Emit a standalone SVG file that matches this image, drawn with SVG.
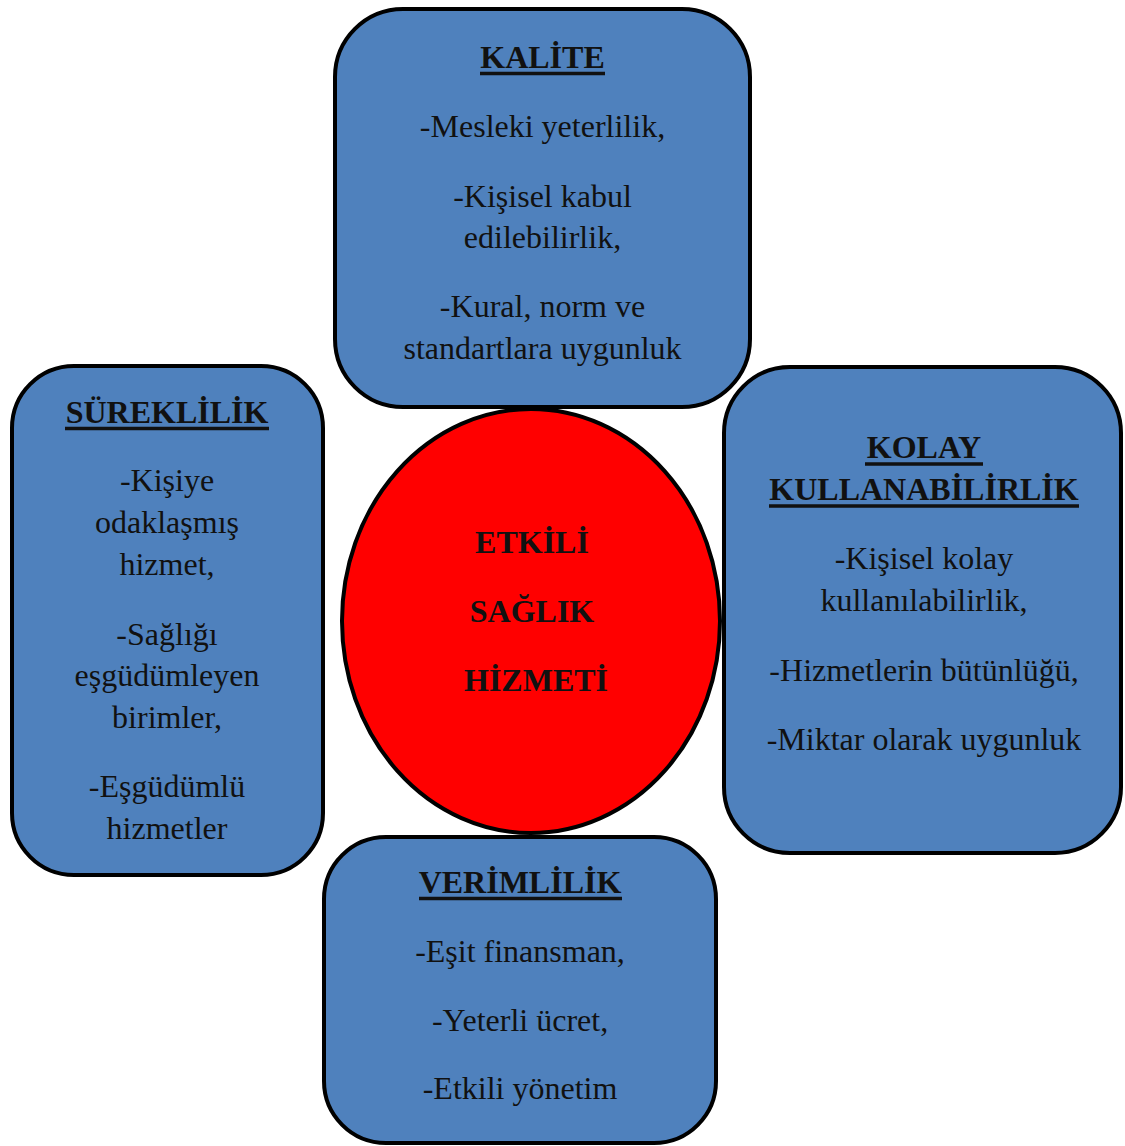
<svg xmlns="http://www.w3.org/2000/svg" width="1125" height="1146" viewBox="0 0 1125 1146">
<style>
.box{fill:#4F81BD;stroke:#000;stroke-width:4}
.hub{fill:#FF0000;stroke:#000;stroke-width:4}
text{font-family:"Liberation Serif","Times New Roman",serif;font-size:32px;fill:#111;text-anchor:middle}
.h,.c{font-weight:bold}
.u{stroke:#111;stroke-width:3.5}
</style>
<rect width="1125" height="1146" fill="#fff"/>
<g id="connectors"></g>
<g id="kalite">
<rect class="box" x="335" y="9" width="415" height="398" rx="68" ry="68"/>
<text class="h" x="542.5" y="68">KALİTE</text>
<line class="u" x1="480" y1="73.5" x2="605" y2="73.5"/>
<text x="542.5" y="137">-Mesleki yeterlilik,</text>
<text x="542.5" y="207">-Kişisel kabul</text>
<text x="542.5" y="248">edilebilirlik,</text>
<text x="542.5" y="317">-Kural, norm ve</text>
<text x="542.5" y="359">standartlara uygunluk</text>
</g>
<g id="sureklilik">
<rect class="box" x="12" y="366" width="311" height="509" rx="62" ry="62"/>
<text class="h" x="167" y="423">SÜREKLİLİK</text>
<line class="u" x1="65" y1="428.5" x2="269" y2="428.5"/>
<text x="167" y="491">-Kişiye</text>
<text x="167" y="533">odaklaşmış</text>
<text x="167" y="575">hizmet,</text>
<text x="167" y="645">-Sağlığı</text>
<text x="167" y="686">eşgüdümleyen</text>
<text x="167" y="728">birimler,</text>
<text x="167" y="797">-Eşgüdümlü</text>
<text x="167" y="839">hizmetler</text>
</g>
<g id="kolay">
<rect class="box" x="724" y="367" width="397" height="486" rx="66" ry="66"/>
<text class="h" x="924" y="458">KOLAY</text>
<line class="u" x1="865" y1="464" x2="983" y2="464"/>
<text class="h" x="924" y="500">KULLANABİLİRLİK</text>
<line class="u" x1="769" y1="506" x2="1079" y2="506"/>
<text x="924" y="569">-Kişisel kolay</text>
<text x="924" y="611">kullanılabilirlik,</text>
<text x="924" y="681">-Hizmetlerin bütünlüğü,</text>
<text x="924" y="750">-Miktar olarak uygunluk</text>
</g>
<g id="verimlilik">
<rect class="box" x="324" y="837" width="392" height="306" rx="62" ry="62"/>
<text class="h" x="520" y="893">VERİMLİLİK</text>
<line class="u" x1="419" y1="898.5" x2="622" y2="898.5"/>
<text x="520" y="962">-Eşit finansman,</text>
<text x="520" y="1031">-Yeterli ücret,</text>
<text x="520" y="1099">-Etkili yönetim</text>
</g>
<g id="etkili">
<ellipse class="hub" cx="531" cy="621" rx="189" ry="212"/>
<text class="c" x="532" y="553">ETKİLİ</text>
<text class="c" x="532" y="622">SAĞLIK</text>
<text class="c" x="536" y="691">HİZMETİ</text>
</g>
</svg>
